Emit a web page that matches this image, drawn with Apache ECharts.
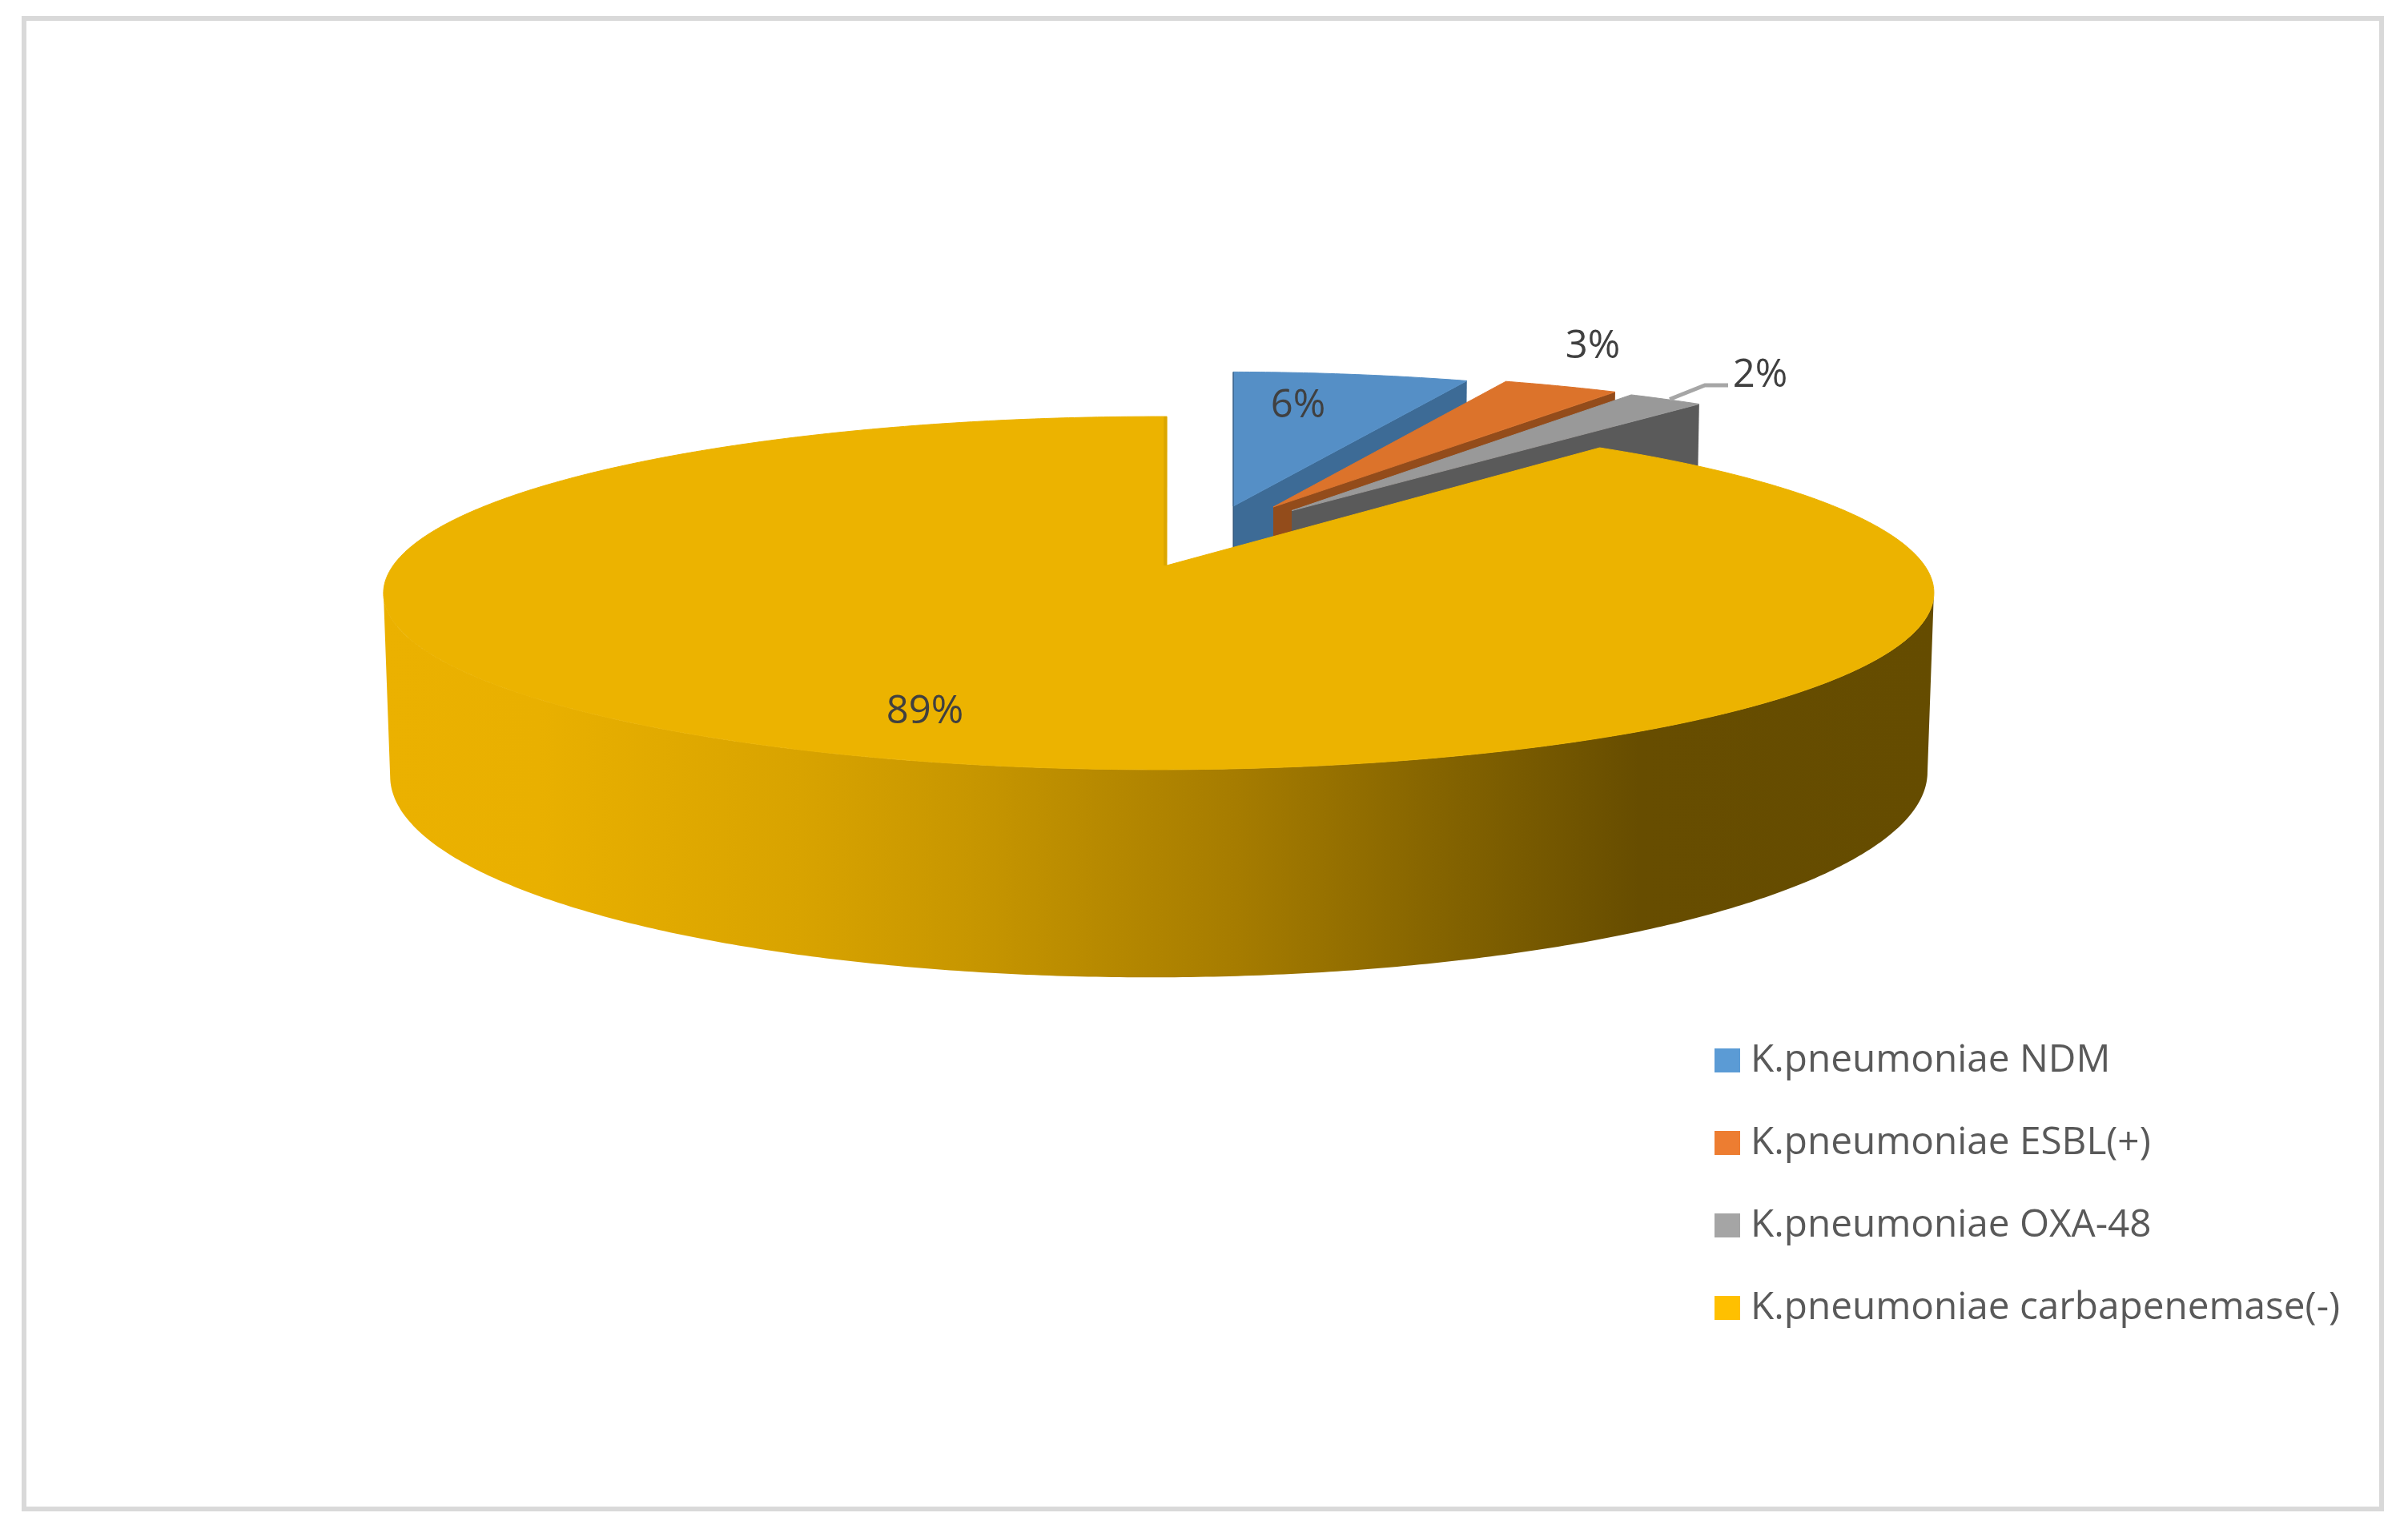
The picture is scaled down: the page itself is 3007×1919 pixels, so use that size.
<!DOCTYPE html>
<html>
<head>
<meta charset="utf-8">
<style>html,body{margin:0;padding:0;background:#fff}#chart{width:3007px;height:1919px}</style>
<script src="https://cdn.jsdelivr.net/npm/echarts@6/dist/echarts.min.js"></script>
</head>
<body>
<div id="chart"></div>
<script>
// ---- data ----
const categories = ['K.pneumoniae NDM', 'K.pneumoniae ESBL(+)', 'K.pneumoniae OXA-48', 'K.pneumoniae carbapenemase(-)'];
const values = [6, 3, 2, 89];

// ---- styles, per slice ----
const swatchColors = ['#5b9bd5', '#ed7d31', '#a5a5a5', '#ffc000'];
const topColors = ['#558fc6', '#dc732b', '#999999', '#ecb300'];
const wallColors = ['#3d6b96', '#934c1b', '#5a5a5a', '#dba600'];

// ---- layout of the tilted pie (projection of the unit disc) ----
const CX = 1457, CY = 706, RX = 956, RY = 215, DEPTH = 223;
const PERSP_V = 0.1565, PERSP_U = 0.0103, PERSP_Z = 0.0083;
const explodeX = [83, 133, 156, 0];
const explodeV = [-0.3636, -0.3586, -0.335, 0];
const scaleX = [1, 0.995, 0.985, 1];
const labelPos = [[1621, 507], [1989, 433], [2198, 469], [1155, 889]];
const labelFont = '49px "Open Sans"';
const sideStops = [
  [0, '#ebb100'], [0.1, '#e9b000'], [0.27, '#d8a300'], [0.38, '#c79600'], [0.55, '#a67c00'],
  [0.68, '#856400'], [0.81, '#674d00'], [1, '#654c00']
];

const total = values.reduce((a, b) => a + b, 0);
const starts = values.map((_, i) => values.slice(0, i).reduce((a, b) => a + b, 0) / total * 360);

function project(i, u, v, z) {
  const vv = v + explodeV[i];
  const w = 1 - PERSP_V * vv + PERSP_U * u + PERSP_Z * z;
  return [CX + explodeX[i] + scaleX[i] * RX * u / w, CY + (RY * vv + DEPTH * z) / w];
}
function rim(i, deg, z) {
  const t = deg * Math.PI / 180;
  return project(i, Math.sin(t), -Math.cos(t), z);
}
function arc(i, a, b, z) {
  const n = Math.max(2, Math.ceil(Math.abs(b - a) * 2)), pts = [];
  for (let k = 0; k <= n; k++) pts.push(rim(i, a + (b - a) * k / n, z));
  return pts;
}
// angle of the widest point of the projected rim, so the curved wall ends on the silhouette
function extreme(i, z, sign) {
  let best = 0, bx = -Infinity;
  for (let d = 0; d < 360; d += 0.25) {
    const x = sign * rim(i, d, z)[0];
    if (x > bx) { bx = x; best = d; }
  }
  return best;
}

function renderSlice(params, api) {
  const i = params.seriesIndex;
  const a = starts[i], b = a + api.value(0) / total * 360;
  const children = [];
  const apex = project(i, 0, 0, 0), apexLow = project(i, 0, 0, 1);
  if (i < 3) {
    // cut wall of the pulled-out slice
    children.push({
      type: 'polygon',
      shape: { points: [apex, rim(i, b, 0), rim(i, b, 1), apexLow] },
      style: { fill: wallColors[i] }
    });
  } else {
    // curved outer wall of the big slice
    const up = arc(i, extreme(i, 0, 1), extreme(i, 0, -1), 0);
    const low = arc(i, extreme(i, 1, -1), extreme(i, 1, 1), 1);
    children.push({
      type: 'polygon',
      shape: { points: up.concat(low) },
      style: {
        fill: new echarts.graphic.LinearGradient(0, 0, 1, 0, sideStops.map(s => ({ offset: s[0], color: s[1] })))
      }
    });
  }
  children.push({
    type: 'polygon',
    shape: { points: [apex].concat(arc(i, a, b, 0)) },
    style: { fill: topColors[i], stroke: topColors[i], lineWidth: 1 }
  });
  if (i === 3) {
    // thin visible edge of the cut at twelve o'clock
    children.push({
      type: 'polyline',
      shape: { points: [project(i, -0.002, -1, 0), project(i, -0.002, 0, 0)] },
      style: { stroke: wallColors[i], lineWidth: 4, fill: null }
    });
  }
  if (i === 0) {
    children.push({
      type: 'polyline',
      shape: { points: [rim(i, a, 0), apex, apexLow] },
      style: { stroke: '#2b4c6c', lineWidth: 1.5, fill: null, opacity: 0.7 }
    });
  }
  if (i === 2) {
    // leader line of the small slice
    const s = rim(i, (a + b) / 2, 0);
    const end = [labelPos[i][0] - 40, labelPos[i][1] + 12];
    children.push({
      type: 'polyline',
      shape: { points: [[s[0] + 5, s[1]], [end[0] - 29, end[1]], end] },
      style: { stroke: '#a6a6a6', lineWidth: 5, fill: null }
    });
  }
  children.push({
    type: 'text',
    style: {
      text: Math.round(api.value(0) / total * 100) + '%',
      x: labelPos[i][0], y: labelPos[i][1],
      align: 'center', verticalAlign: 'middle',
      fill: '#404040', font: labelFont
    }
  });
  return { type: 'group', children };
}

const chart = echarts.init(document.getElementById('chart'), null, { renderer: 'canvas' });
chart.setOption({
  animation: false,
  backgroundColor: '#ffffff',
  graphic: [{
    type: 'rect', silent: true,
    shape: { x: 30, y: 23, width: 2944, height: 1861 },
    style: { fill: null, stroke: '#d9d9d9', lineWidth: 6 }
  }],
  legend: {
    data: categories,
    orient: 'vertical',
    left: 2141, top: 1298,
    padding: 0,
    itemWidth: 32, itemHeight: 30, itemGap: 51,
    icon: 'rect',
    selectedMode: false,
    textStyle: { color: '#595959', fontFamily: 'Open Sans', fontSize: 47.7, padding: [0, 0, 0, 8], lineHeight: 52 }
  },
  series: categories.map((name, i) => ({
    type: 'custom',
    name,
    coordinateSystem: 'none',
    silent: true,
    itemStyle: { color: swatchColors[i] },
    renderItem: renderSlice,
    data: [[values[i]]]
  }))
});
</script>
</body>
</html>
